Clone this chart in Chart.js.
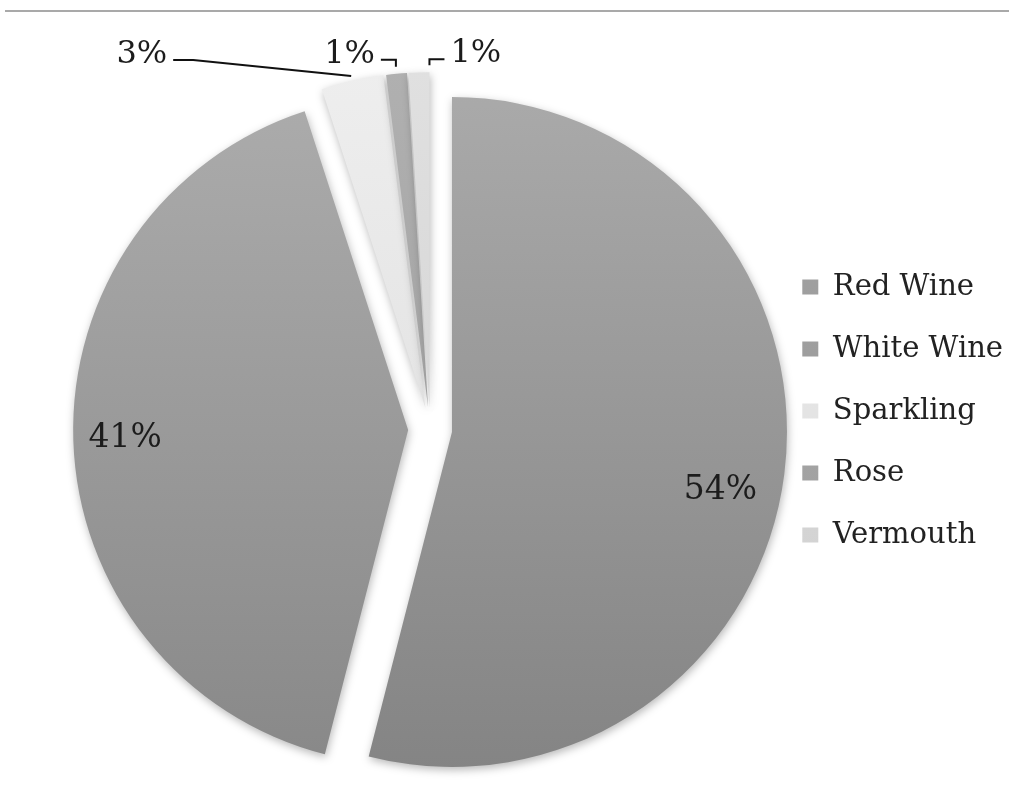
<!DOCTYPE html>
<html><head><meta charset="utf-8">
<script src="https://cdn.jsdelivr.net/npm/chart.js@4.4.0/dist/chart.umd.min.js"></script>
<style>
html,body{margin:0;padding:0;background:#fff;}
#wrap{position:relative;width:1009px;height:790px;overflow:hidden;}
#topline{position:absolute;left:5px;right:0;top:10px;height:2px;background:#a9a9a9;}
canvas{position:absolute;left:0;top:0;}
</style></head><body>
<div id="wrap"><canvas id="c" width="1009" height="790"></canvas><div id="topline"></div></div>
<script>
// ---- data ----
const categories = ['Red Wine', 'White Wine', 'Sparkling', 'Rose', 'Vermouth'];
const shares = [54, 41, 3, 1, 1];
// ---- styles ----
const colorTop = ['#ababab', '#adadad', '#eeeeee', '#b0b0b0', '#e0e0e0'];
const colorBottom = ['#838383', '#878787', '#d9d9d9', '#989898', '#cdcdcd'];
const EXPLODE = 22;      // px each slice is pulled out from the centre (Excel-style explode)
const PIE_RADIUS = 335;
const FONT = '"DejaVu Serif", "Liberation Serif", serif';

const total = shares.reduce((a, b) => a + b, 0);

const gradCache = {};
function sliceFill(ctx) {
  const i = ctx.dataIndex;
  const chart = ctx.chart;
  const area = chart.chartArea;
  if (!area) return colorTop[i];
  const key = i + ':' + area.top + ':' + area.bottom;
  if (!gradCache[key]) {
    const g = chart.ctx.createLinearGradient(0, area.top, 0, area.bottom);
    g.addColorStop(0, colorTop[i]);
    g.addColorStop(1, colorBottom[i]);
    gradCache[key] = g;
  }
  return gradCache[key];
}

// pure translation explode: move each arc's centre along its mid angle
const explodePlugin = {
  id: 'explode',
  afterDatasetUpdate(chart, args) {
    args.meta.data.forEach((el) => {
      const half = (el.startAngle + el.endAngle) / 2;
      el.x += Math.cos(half) * EXPLODE;
      el.y += Math.sin(half) * EXPLODE;
    });
  }
};

const shadowPlugin = {
  id: 'pieShadow',
  beforeDatasetsDraw(chart) {
    const c = chart.ctx;
    c.save();
    c.shadowColor = 'rgba(0,0,0,0.28)';
    c.shadowBlur = 9;
    c.shadowOffsetX = 1;
    c.shadowOffsetY = 3;
  },
  afterDatasetsDraw(chart) { chart.ctx.restore(); }
};

// label placement rules (inside = along radius, outside = leader line)
const insideLabels = { 0: { f: 0.82, shift: 5 }, 1: { f: 0.845, shift: 0 } };
const outsideLabels = {
  2: { t: 0.5, ext: 5, knee: [-158, -16], tail: -20 },
  3: { t: 0.5, ext: 7, knee: [0, -7], tail: -15 },
  4: { t: 1.0, ext: 7, knee: [0, -6], tail: 15 }
};

const labelPlugin = {
  id: 'pctLabels',
  afterDatasetsDraw(chart) {
    const c = chart.ctx;
    const meta = chart.getDatasetMeta(0);
    const vals = chart.data.datasets[0].data;
    c.save();
    c.fillStyle = '#1c1c1c';
    c.strokeStyle = '#111';
    c.lineWidth = 2;
    meta.data.forEach((el, i) => {
      const p = el.getProps(['x', 'y', 'startAngle', 'endAngle', 'outerRadius'], true);
      const half = (p.startAngle + p.endAngle) / 2;
      const cx = p.x, cy = p.y;
      const R = p.outerRadius;
      const txt = Math.round(vals[i] / total * 100) + '%';
      if (insideLabels[i]) {
        const L = insideLabels[i];
        const a = half + L.shift * Math.PI / 180;
        c.font = '33px ' + FONT;
        c.textAlign = 'center';
        c.textBaseline = 'middle';
        c.fillText(txt, cx + Math.cos(a) * L.f * R, cy + Math.sin(a) * L.f * R);
      } else if (outsideLabels[i]) {
        const L = outsideLabels[i];
        const a = p.startAngle + L.t * (p.endAngle - p.startAngle);
        const x0 = cx + Math.cos(a) * (R + L.ext);
        const y0 = cy + Math.sin(a) * (R + L.ext);
        const x1 = x0 + L.knee[0], y1 = y0 + L.knee[1];
        const x2 = x1 + L.tail;
        c.beginPath();
        c.moveTo(x0, y0);
        c.lineTo(x1, y1);
        c.lineTo(x2, y1);
        c.stroke();
        const dir = L.tail < 0 ? -1 : 1;
        c.font = '32px ' + FONT;
        c.textAlign = dir < 0 ? 'right' : 'left';
        c.textBaseline = 'alphabetic';
        c.fillText(txt, x2 + dir * 6, y1 + 3);
      }
    });
    c.restore();
  }
};

new Chart(document.getElementById('c'), {
  type: 'pie',
  data: {
    labels: categories,
    datasets: [{
      data: shares,
      backgroundColor: sliceFill,
      borderWidth: 0,
      offset: 0,
      hoverOffset: 0,
      radius: PIE_RADIUS,
      clip: false
    }]
  },
  options: {
    responsive: false,
    animation: false,
    events: [],
    layout: { padding: { top: 32, bottom: 0, left: 91, right: -4 } },
    plugins: {
      title: { display: true, text: '', padding: { top: 0, bottom: 22 }, font: { size: 12 } },
      tooltip: { enabled: false },
      legend: {
        position: 'right',
        align: 'center',
        labels: {
          boxWidth: 16,
          boxHeight: 15,
          padding: 33,
          color: '#222',
          font: { family: FONT, size: 29 }
        }
      }
    }
  },
  plugins: [explodePlugin, shadowPlugin, labelPlugin]
});
</script>
</body></html>
